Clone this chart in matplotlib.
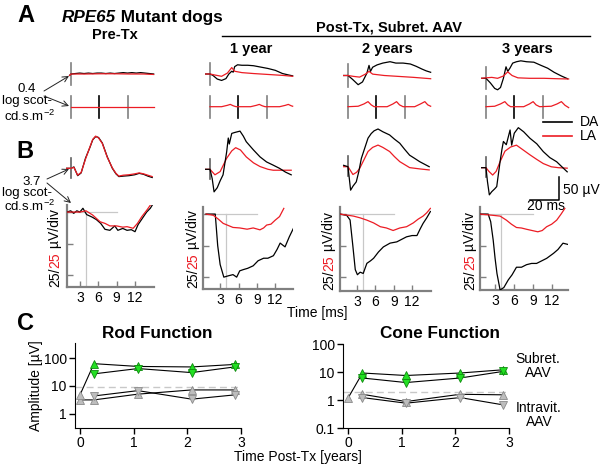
import matplotlib
matplotlib.use('Agg')
import matplotlib.pyplot as plt
from matplotlib.ticker import NullLocator

plt.rcParams['font.family'] = ['Liberation Sans', 'DejaVu Sans']
plt.rcParams['mathtext.fontset'] = 'custom'
plt.rcParams['mathtext.rm'] = 'Liberation Sans'
plt.rcParams['mathtext.it'] = 'Liberation Sans:italic'
plt.rcParams['mathtext.bf'] = 'Liberation Sans:bold'

# ------------------------------------------------------------------ data
columns = ['Pre-Tx', '1 year', '2 years', '3 years']

# Panel A, rod ERG (0.4 log scot-cd.s.m-2): time [ms], amplitude [uV]
rod_da_t = [
    [-1, 0, 3, 6, 9, 12, 15, 18, 21, 24, 27, 30, 33, 36, 39, 42, 45, 48, 51, 54, 57],
    [-3, 0, 2, 5, 8, 11, 13, 15, 16, 17, 19, 22, 26, 30, 35, 40, 45, 50, 54, 57],
    [-3, 0, 3, 7, 10, 13, 14.5, 15.5, 17, 20, 24, 29, 33, 38, 43, 47, 51, 54, 57],
    [-3, 0, 3, 6, 8, 10, 12, 13.8, 15, 16.5, 18.4, 21, 24, 28, 33, 38, 42.5, 47, 52, 56.3],
]
rod_da_v = [
    [-3, 0, 1, 2, 1, 2, 1, 2, 2, 1, 2, 1, 2, 3, 2, 3, 2, 3, 2, 1, 0],
    [0, 0, -3, -11, -14, -10, 0, 6, 4, 16, 20, 19, 19, 18, 15, 12, 8, 1, -2, -4],
    [0, 0, -8, -20, -14, 5, 22, 9, 18, 23, 27, 30, 27, 27, 25, 20, 14, 10, 7],
    [0, 0, -10, -22, -25, -20, 0, 25, 15, 22, 33, 36, 38, 36, 35, 28, 22, 13, 5, -1],
]
rod_la_t = [
    [-1, 0, 10, 20, 30, 40, 50, 57],
    [-3, 0, 3, 8, 12, 15, 17, 22, 30, 40, 50, 57],
    [-3, 0, 4, 8, 12, 14.5, 17, 25, 35, 45, 57],
    [-3, 0, 4, 8, 12, 15, 18, 22, 30, 40, 50, 57],
]
rod_la_v = [
    [-3, 0, 0, 0.5, 0.5, 0, 0, -1],
    [0, 0, -2, -5, 2, 14, 6, 3, 1, -1, -3, -5],
    [0, 0, -2, -3.5, 3, 9, 3, 0, -2, -4, -7],
    [0, 1, 2, 0, 5, 14, 6, 1, 0, 0, -1, -1.5],
]
# flicker row
flicker_t = [
    [0, 57],
    [0, 8, 12, 14, 16, 18, 28, 32, 34, 36, 38, 48, 52, 54, 56, 57],
    [0, 7, 11, 13.8, 16, 18, 27, 31, 33.5, 35.5, 38, 46, 50, 53, 55, 57],
    [0, 6, 10, 13, 15, 17, 26, 30, 32.5, 34.5, 37, 45, 49, 52, 54.5, 57],
]
flicker_v = [
    [0, 0],
    [0, 0, 3, 5, 2, 0, 0, 3, 5, 2, 0, 0, 3, 5, 2, 1],
    [0, 1, 6, 11, 4, 0, 0, 6, 11, 4, 0, 0, 6, 11, 4, 1],
    [0, 1, 6, 11, 4, 0, 0, 6, 11, 4, 0, 1, 6, 11, 3, -2],
]
flicker_stim_t = [0, 19.6, 39.2]

# Panel B, cone ERG (3.7 log scot-cd.s.m-2)
cone_da_t = [
    [-3, 0, 2, 4.6, 7, 10, 13, 15, 17, 19, 21.6, 25, 28.5, 31, 33, 36, 40, 44, 47, 50, 53, 56],
    [-3, 0, 1.5, 2.8, 5, 7, 9, 11.5, 12.6, 13.3, 15, 17, 20.7, 23, 25, 30, 34.5, 39, 43.6, 48, 52, 56],
    [-3, 0, 1.8, 3.5, 5.7, 7.5, 9.2, 11.5, 13.8, 16, 18, 20.7, 24, 28.7, 32, 35.7, 39, 42.5, 46, 49.4, 53, 56],
    [-3, 0, 1, 2.3, 4, 6, 7.4, 8.5, 9.7, 11, 12, 14, 16.6, 17.7, 19.5, 22.3, 26, 30.3, 35, 39.5, 44, 48.7, 52, 56],
]
cone_da_v = [
    [0, 0, 3, -16, -10, 22, 45, 62, 69, 67, 55, 25, 0, -12, -18, -17, -16, -14, -11, -13, -17, -20],
    [0, 0, -20, -49, -40, -25, -12, 38, 68, 55, 78, 80, 83, 72, 60, 42, 27, 16, 9, 2, -6, -12],
    [3, 0, -51, -42, -33, -10, 18, 40, 62, 72, 78, 82, 76, 69, 60, 51, 38, 25, 18, 11, 5, 0],
    [0, 0, -30, -59, -52, -46, -41, -15, 13, 40, 57, 50, 82, 49, 75, 87, 78, 64, 52, 35, 22, 13, 3, -9],
]
cone_la_t = [
    [-3, 0, 2, 4.6, 7, 10, 13, 15, 17, 19, 21.6, 25, 28.5, 31, 33, 36, 40, 44, 47, 50, 53, 56],
    [-3, 0, 3.4, 7, 9, 11.5, 15, 17.7, 21, 25, 30, 34.5, 40, 43.6, 50, 56],
    [-3, 0, 3.4, 6, 8, 11, 13.8, 17, 20.7, 24, 28.7, 32, 35.7, 42.5, 50, 56],
    [-3, 0, 2, 4.6, 7, 9.7, 13.1, 17, 21, 25, 30.3, 35, 39.5, 45, 50, 56],
]
cone_la_v = [
    [0, 0, 2, -15, -9, 20, 46, 63, 70, 66, 54, 24, 1, -11, -17, -15, -14, -12, -10, -12, -15, -18],
    [0, 0, -12, -5, 8, 24, 40, 47, 42, 27, 14, 6, 0, -2, -2, -2],
    [0, 0, -17, -12, -4, 15, 33, 42, 47, 42, 33, 22, 11, -2, -5, -7],
    [0, 0, -8, -16, -8, 13, 36, 45, 49, 40, 28, 18, 9, 2, 0, -1],
]
# Panel B lower row: a-wave detail
awave_da_t = [
    [0.9, 1.5, 2, 2.5, 3, 3.5, 4.1, 5, 5.7, 6.4, 7.1, 7.9, 8.7, 9.2, 10, 10.7, 11.4, 12, 12.5, 13.2, 13.9, 14.5, 15],
    [0.7, 1.5, 2.2, 2.6, 3, 3.6, 4.3, 5.1, 5.7, 6.2, 6.8, 7.5, 8.4, 9.2, 10.1, 10.8, 11.7, 12.3, 12.8, 13.6, 14.3, 15],
    [0.2, 1.3, 1.85, 2.3, 2.7, 3.05, 3.5, 4, 4.6, 5.2, 5.7, 6.5, 7.3, 8.4, 9.5, 10.3, 11.1, 12, 12.8, 13.3, 13.8, 14.4, 15],
    [0.6, 1.9, 2.3, 2.7, 3.0, 3.3, 3.8, 4.4, 5.1, 5.7, 6.4, 7.2, 8, 8.8, 9.6, 10.4, 11.2, 12.3, 13, 13.8, 14.6],
]
awave_da_v = [
    [0, 1, -1, 1, 0, 3, -2, -4, -6, -9, -13.7, -14.5, -11, -14.5, -13, -14.5, -14, -15.6, -10, -5, 0, 3, 7],
    [0, 0, 0, -25, -40, -50, -49, -48, -50, -45, -44, -43, -41, -37, -35, -35, -33, -28, -23, -26, -18, -11],
    [0, -1, -4.7, -25, -44, -48, -46, -47, -39, -37, -35, -30, -26, -23, -22, -20, -18, -17, -17, -12, -7.4, -3, 2],
    [0, 0, -6, -20.6, -35, -47, -60, -58, -52, -48, -42, -42, -40, -39, -39, -37, -35, -31, -28, -23, -24],
]
awave_la_t = [
    [0.9, 2, 3, 4, 5.1, 6.3, 7.1, 7.9, 9, 10, 10.7, 11.7, 12.4, 13.1, 14, 14.5, 15],
    [0.7, 1.9, 2.7, 3.5, 4.3, 5.1, 6.2, 7.4, 8.4, 9.5, 10.1, 10.6, 11.3, 12, 12.7, 13.4],
    [0.2, 2.4, 3.5, 4.6, 5.7, 6.8, 7.8, 8.9, 10, 11.1, 12.2, 13, 13.8, 14.4, 15],
    [0.6, 2.7, 3.8, 4.8, 5.6, 6.4, 7.2, 8, 8.9, 9.8, 10.5, 11.2, 12, 12.8, 13.5, 14.1],
]
awave_la_v = [
    [0, 0, 0, 1, -2.4, -7.7, -9, -11, -11, -12, -11.6, -12.9, -9, -3.7, 2, 5.5, 8],
    [0, -1, -4, -7.4, -9, -10.6, -11, -12, -11, -12.5, -11, -8.7, -8, -4.8, -2, 4.5],
    [0, -1.6, -3, -4.8, -7, -10, -11, -13, -11, -10, -7, -4, -1.6, 1, 4.5],
    [0, -1, -1.6, -4.8, -8, -10.6, -11, -12, -13, -14, -13, -10, -8, -4.8, 0, 4.5],
]
awave_xticks = [3, 6, 9, 12]
awave_yticks = [0, -25, -50]
awave_ref_t = 4      # vertical reference time [ms]
awave_ref_end = 9    # horizontal zero-line end [ms]

# Panel C: amplitudes [uV] vs time post-Tx [years]
rod_sub_up_x = [0, 0.26, 1.08, 2.08, 2.88]
rod_sub_up = [4.7, 63, 50, 48, 59]
rod_sub_dn_x = [0.26, 1.08, 2.08, 2.88]
rod_sub_dn = [27, 42, 30, 48]
rod_iv_up_x = [0, 0.26, 1.08, 2.08, 2.88]
rod_iv_up = [3.1, 3.1, 5, 7.1, 7.1]
rod_iv_dn_x = [0.26, 1.08, 2.08, 2.88]
rod_iv_dn = [4.3, 6.7, 3.3, 4.7]
rod_threshold = 9

cone_sub_up_x = [0, 0.27, 1.08, 2.09, 2.89]
cone_sub_up = [1.16, 9.2, 7.5, 9.2, 12]
cone_sub_dn_x = [0.27, 1.08, 2.09, 2.89]
cone_sub_dn = [6.1, 4.2, 6.1, 10.5]
cone_iv_up_x = [0.27, 1.08, 2.09, 2.89]
cone_iv_up = [1.6, 0.88, 1.6, 1.53]
cone_iv_dn_x = [0.27, 1.08, 2.09, 2.89]
cone_iv_dn = [1.22, 0.77, 1.22, 0.67]
cone_threshold = 2

# ------------------------------------------------------------------ layout
W, H = 600, 468
RED = '#ec1c24'
GREEN = '#22e022'
GREEN_EDGE = '#108a10'
GRAY_FACE = '#bdbdbd'
GRAY_EDGE = '#8a8a8a'
PX_MS = 1.45      # pixels per ms (trace panels)
PX_UV = 0.46      # pixels per uV (trace panels)
STIM_X = [71, 210, 348, 486]
A_ZERO = [74, 74, 75.5, 78.3]
FLK_ZERO = 106.7
B_ZERO = [168.3, 169.3, 166.7, 167.7]

fig = plt.figure(figsize=(6, 4.68), dpi=100)


def px_axes(left, top, right, bottom, z=2):
    ax = fig.add_axes([left / W, 1 - bottom / H, (right - left) / W, (bottom - top) / H], zorder=z)
    ax.patch.set_visible(False)
    return ax


def trace_axes(x0, y0, tmin, tmax, vmin, vmax):
    ax = px_axes(x0 + tmin * PX_MS, y0 - vmax * PX_UV, x0 + tmax * PX_MS, y0 - vmin * PX_UV)
    ax.set_xlim(tmin, tmax)
    ax.set_ylim(vmin, vmax)
    ax.axis('off')
    return ax


# overlay axes in pixel coordinates for labels / annotations
ov = px_axes(0, 0, W, H, z=1)
ov.set_xlim(0, W)
ov.set_ylim(H, 0)
ov.axis('off')

# ---- headings
ov.text(26, 16, 'A', fontsize=17, fontweight='bold', ha='center', va='center')
ov.text(25, 151, 'B', fontsize=17, fontweight='bold', ha='center', va='center')
ov.text(25, 324, 'C', fontsize=17, fontweight='bold', ha='center', va='center')
t1 = ov.text(62, 22, 'RPE65', fontsize=12.3, fontweight='bold', style='italic', ha='left', va='baseline')
ov.annotate(' Mutant dogs', xy=(1, 0), xycoords=t1, fontsize=12.3, fontweight='bold',
            ha='left', va='bottom')
ov.text(115, 35, 'Pre-Tx', fontsize=10.5, fontweight='bold', ha='center', va='center')
ov.text(389, 27, 'Post-Tx, Subret. AAV', fontsize=10.5, fontweight='bold', ha='center', va='center')
ov.plot([222, 590], [36, 36], color='black', lw=1)
for xc, lab in zip([251, 387, 527], columns[1:]):
    ov.text(xc, 49, lab, fontsize=10.5, fontweight='bold', ha='center', va='center')

# intensity labels + arrows
ov.text(27, 89, '0.4', fontsize=9.5, ha='center', va='center')
ov.text(27, 101, 'log scot-', fontsize=9.5, ha='center', va='center')
ov.text(30, 116, r'cd.s.m$^{-2}$', fontsize=9.5, ha='center', va='center')
ov.text(32, 182, '3.7', fontsize=9.5, ha='center', va='center')
ov.text(27, 193, 'log scot-', fontsize=9.5, ha='center', va='center')
ov.text(30, 206, r'cd.s.m$^{-2}$', fontsize=9.5, ha='center', va='center')
arrow_kw = dict(arrowstyle='->', lw=0.7, color='#222222', shrinkA=0, shrinkB=0)
ov.annotate('', xy=(69, 76), xytext=(44, 91), arrowprops=arrow_kw)
ov.annotate('', xy=(69, 106), xytext=(44, 96), arrowprops=arrow_kw)
ov.annotate('', xy=(69, 169), xytext=(47, 179), arrowprops=arrow_kw)
ov.annotate('', xy=(71, 203), xytext=(47, 183), arrowprops=arrow_kw)

# ---- Panel A traces
for i in range(4):
    ax = trace_axes(STIM_X[i], A_ZERO[i], -4, 60, -30, 30)
    ax.plot([0, 0], [-24, 24], color='#808080', lw=1.2, clip_on=False)
    ax.plot(rod_da_t[i], rod_da_v[i], color='black', lw=0.9, clip_on=False)
    ax.plot(rod_la_t[i], rod_la_v[i], color=RED, lw=0.9, clip_on=False)

    axf = trace_axes(STIM_X[i], FLK_ZERO, -4, 60, -26, 26)
    for k, ts in enumerate(flicker_stim_t):
        axf.plot([ts, ts], [-23.5, 23.5], color='black' if k == 1 else '#808080', lw=1.2, clip_on=False)
    axf.plot(flicker_t[i], flicker_v[i], color=RED, lw=0.9, clip_on=False)

# legend
ov.plot([543, 572], [122, 122], color='black', lw=1.2)
ov.plot([543, 572], [136, 136], color=RED, lw=1.2)
ov.text(580, 122, 'DA', fontsize=10, ha='left', va='center')
ov.text(580, 136, 'LA', fontsize=10, ha='left', va='center')

# ---- Panel B top traces
for i in range(4):
    ax = trace_axes(STIM_X[i], B_ZERO[i], -4, 60, -65, 95)
    ax.plot([0, 0], [-20, 23], color='#606060', lw=1.2, clip_on=False)
    ax.plot(cone_la_t[i], cone_la_v[i], color=RED, lw=0.9, clip_on=False, zorder=2)
    ax.plot(cone_da_t[i], cone_da_v[i], color='black', lw=0.9, clip_on=False,
            zorder=1 if i == 0 else 3)

# scale bar (20 ms, 50 uV)
sb = trace_axes(559, 200, -20, 0, 0, 50)
sb.plot([-20, 0, 0], [0, 0, 50], color='black', lw=1.1, clip_on=False)
ov.text(563, 190, '50 µV', fontsize=10, ha='left', va='center')
ov.text(546, 206, '20 ms', fontsize=10, ha='center', va='center')

# ---- Panel B lower: a-wave detail
awave_rects = [(67, 205, 154, 287), (203, 207, 293, 288.5), (340, 207, 431, 290.5), (480, 207, 568, 290)]
awave_xlims = [(0.9, 15.1), (0.2, 14.9), (0.2, 15.1), (0.6, 14.6)]
awave_ylims = [(-59.5, 5.6), (-59.0, 5.6), (-60.5, 5.6), (-60.0, 5.6)]
label_x = [55, 193, 329, 470]
for i in range(4):
    l, t, r, b = awave_rects[i]
    ax = px_axes(l, t, r, b)
    ax.set_xlim(*awave_xlims[i])
    ax.set_ylim(*awave_ylims[i])
    for s in ['top', 'right']:
        ax.spines[s].set_visible(False)
    for s in ['left', 'bottom']:
        ax.spines[s].set_color('#808080')
        ax.spines[s].set_linewidth(1.6)
    ax.set_xticks(awave_xticks)
    ax.set_xticklabels([str(v) for v in awave_xticks], fontsize=10)
    ax.set_yticks(awave_yticks)
    ax.set_yticklabels([])
    ax.tick_params(direction='in', length=4, width=1, color='#808080', pad=3)
    x0 = awave_xlims[i][0]
    ax.plot([x0, awave_ref_end], [0, 0], color='#c8c8c8', lw=0.9, zorder=1)
    ax.plot([awave_ref_t, awave_ref_t], [0, awave_ylims[i][0]], color='#c8c8c8', lw=0.9, zorder=1)
    ax.plot(awave_da_t[i], awave_da_v[i], color='black', lw=0.9, zorder=3)
    ax.plot(awave_la_t[i], awave_la_v[i], color=RED, lw=0.9, zorder=3)
    # y label with two colours
    a1 = ov.text(label_x[i], b, '25/', fontsize=10, rotation=90, ha='center', va='bottom')
    a2 = ov.annotate('25', xy=(0.5, 1), xycoords=a1, fontsize=10, rotation=90, ha='center',
                     va='bottom', color=RED)
    ov.annotate(' µV/div', xy=(0.5, 1), xycoords=a2, fontsize=10, rotation=90, ha='center',
                va='bottom')

ov.text(317, 313, 'Time [ms]', fontsize=10, ha='center', va='center')

# ---- Panel C
def style_c(ax, ylim, yt, ytl):
    ax.set_yscale('log')
    ax.set_xlim(-0.093, 3.0)
    ax.set_ylim(*ylim)
    for s in ['top', 'right']:
        ax.spines[s].set_visible(False)
    ax.set_xticks([0, 1, 2, 3])
    ax.set_xticklabels(['0', '1', '2', '3'], fontsize=10)
    ax.set_yticks(yt)
    ax.set_yticklabels(ytl, fontsize=10)
    ax.yaxis.set_minor_locator(NullLocator())
    ax.tick_params(direction='out', length=4, width=1, pad=2)


def plot_series(ax, xs, ys, marker, group_color, group_edge):
    ax.plot(xs, ys, color='black', lw=0.8, zorder=2)
    for x, y in zip(xs, ys):
        pre = (x == 0)
        ax.plot([x], [y], marker=marker, ms=5.5, ls='none', zorder=3,
                mfc=GRAY_FACE if pre else group_color,
                mec=GRAY_EDGE if pre else group_edge, mew=0.6, clip_on=False)


axr = px_axes(75, 343, 241, 428)
style_c(axr, (0.3, 351), [1, 10, 100], ['1', '10', '100'])
axr.axhline(rod_threshold, color='#c8c8c8', ls=(0, (5, 3)), lw=1, zorder=1)
plot_series(axr, rod_iv_up_x, rod_iv_up, '^', GRAY_FACE, GRAY_EDGE)
plot_series(axr, rod_iv_dn_x, rod_iv_dn, 'v', GRAY_FACE, GRAY_EDGE)
plot_series(axr, rod_sub_up_x, rod_sub_up, '^', GREEN, GREEN_EDGE)
plot_series(axr, rod_sub_dn_x, rod_sub_dn, 'v', GREEN, GREEN_EDGE)
ov.text(157, 333, 'Rod Function', fontsize=12.3, fontweight='bold', ha='center', va='center')

axc = px_axes(343, 344, 509, 428)
style_c(axc, (0.1, 100), [0.1, 1, 10, 100], ['0.1', '1', '10', '100'])
axc.axhline(cone_threshold, color='#c8c8c8', ls=(0, (5, 3)), lw=1, zorder=1)
plot_series(axc, cone_iv_up_x, cone_iv_up, '^', GRAY_FACE, GRAY_EDGE)
plot_series(axc, cone_iv_dn_x, cone_iv_dn, 'v', GRAY_FACE, GRAY_EDGE)
plot_series(axc, cone_sub_up_x, cone_sub_up, '^', GREEN, GREEN_EDGE)
plot_series(axc, cone_sub_dn_x, cone_sub_dn, 'v', GREEN, GREEN_EDGE)
ov.text(440, 333, 'Cone Function', fontsize=12.3, fontweight='bold', ha='center', va='center')

ov.text(36, 385.5, 'Amplitude [µV]', fontsize=10, rotation=90, ha='center', va='center')
ov.text(298, 457, 'Time Post-Tx [years]', fontsize=10, ha='center', va='center')
ov.text(538, 366, 'Subret.\nAAV', fontsize=10, ha='center', va='center', linespacing=1.05)
ov.text(539, 415, 'Intravit.\nAAV', fontsize=10, ha='center', va='center', linespacing=1.05)

fig.savefig('out.png', dpi=100)
